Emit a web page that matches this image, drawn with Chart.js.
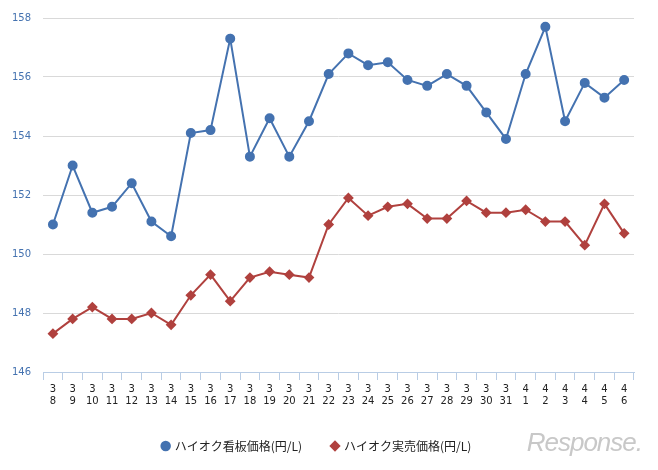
<!DOCTYPE html>
<html><head><meta charset="utf-8">
<script src="https://cdn.jsdelivr.net/npm/chart.js@4"></script>
<style>html,body{margin:0;background:#fff}#w{width:658px;height:470px;position:relative}
#logo{position:absolute;right:16px;bottom:12px;font:italic 26px "Liberation Sans",sans-serif;color:#c8c8c8;letter-spacing:-1px}</style>
</head><body><div id="w"><canvas id="c" width="658" height="470"></canvas><div id="logo">Response.</div></div>
<script>
const months=["3","3","3","3","3","3","3","3","3","3","3","3","3","3","3","3","3","3","3","3","3","3","3","3","4","4","4","4","4","4"];
const days=["8","9","10","11","12","13","14","15","16","17","18","19","20","21","22","23","24","25","26","27","28","29","30","31","1","2","3","4","5","6"];
const signPrice=[151.0,153.0,151.4,151.6,152.4,151.1,150.6,154.1,154.2,157.3,153.3,154.6,153.3,154.5,156.1,156.8,156.4,156.5,155.9,155.7,156.1,155.7,154.8,153.9,156.1,157.7,154.5,155.8,155.3,155.9];
const salePrice=[147.3,147.8,148.2,147.8,147.8,148.0,147.6,148.6,149.3,148.4,149.2,149.4,149.3,149.2,151.0,151.9,151.3,151.6,151.7,151.2,151.2,151.8,151.4,151.4,151.5,151.1,151.1,150.3,151.7,150.7];
const labels=months.map((m,i)=>[m,days[i]]);
new Chart(document.getElementById('c'),{type:'line',
data:{labels,datasets:[
{label:'ハイオク看板価格(円/L)',data:signPrice,borderColor:'#4472b0',backgroundColor:'#4472b0',borderWidth:2,pointRadius:4,pointStyle:'circle',tension:0},
{label:'ハイオク実売価格(円/L)',data:salePrice,borderColor:'#b0413e',backgroundColor:'#b0413e',borderWidth:2,pointRadius:4,pointStyle:'rectRot',tension:0}]},
options:{responsive:false,animation:false,
layout:{padding:{left:0,right:24,top:2,bottom:8}},
plugins:{legend:{position:'bottom',labels:{usePointStyle:true,boxWidth:6,boxHeight:6,padding:30,color:'#222',font:{family:'"Noto Sans CJK JP"',size:12}}},tooltip:{enabled:false}},
scales:{
x:{offset:true,grid:{display:true,drawOnChartArea:false,offset:true,color:'#b9cde5',tickLength:8},border:{color:'#b9cde5'},ticks:{maxRotation:0,autoSkip:false,color:'#222',font:{size:10,family:'"DejaVu Sans"'}}},
y:{min:146,max:158,grid:{color:'#d9d9d9',drawTicks:false},border:{display:false},ticks:{stepSize:2,padding:12,color:'#4472b0',font:{size:10,family:'"DejaVu Sans"'}}}}}});
</script></body></html>
